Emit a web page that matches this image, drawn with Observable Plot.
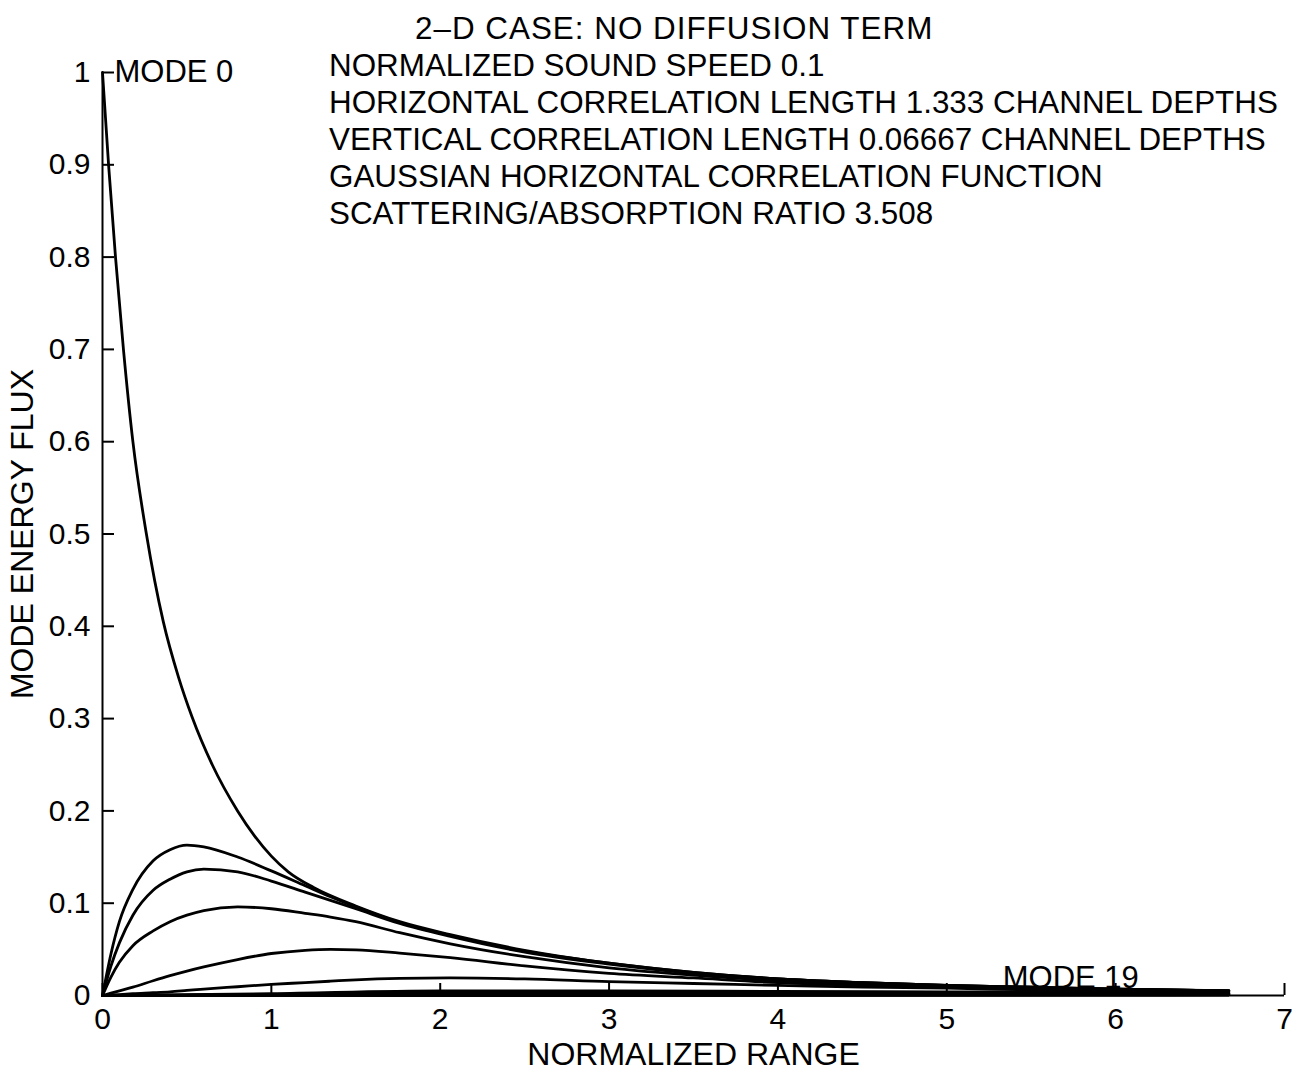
<!DOCTYPE html>
<html><head><meta charset="utf-8">
<script src="https://cdn.jsdelivr.net/npm/d3@7"></script>
<script src="https://cdn.jsdelivr.net/npm/@observablehq/plot@0.6"></script>
<style>
body{margin:0;background:#fff;}
#wrap{position:relative;width:1300px;height:1073px;font-family:"Liberation Sans",Arial,sans-serif;color:#000}
#notes{position:absolute;left:329px;top:10px;font-size:31.4px;line-height:37px;white-space:nowrap;z-index:1}
#notes div:first-child{margin-left:86px;letter-spacing:1px}
</style></head><body>
<div id="wrap"><div id="notes"></div></div>
<script>
// ---- annotation text ----
const noteLines = [
  "2\u2013D CASE: NO DIFFUSION TERM",
  "NORMALIZED SOUND SPEED 0.1",
  "HORIZONTAL CORRELATION LENGTH 1.333 CHANNEL DEPTHS",
  "VERTICAL CORRELATION LENGTH 0.06667 CHANNEL DEPTHS",
  "GAUSSIAN HORIZONTAL CORRELATION FUNCTION",
  "SCATTERING/ABSORPTION RATIO 3.508"
];
const xLabel = "NORMALIZED RANGE";
const yLabel = "MODE ENERGY FLUX";
const xTicks = [0, 1, 2, 3, 4, 5, 6, 7];
const yTicks = [0, 0.1, 0.2, 0.3, 0.4, 0.5, 0.6, 0.7, 0.8, 0.9, 1];
const yTickLabels = ["0", "0.1", "0.2", "0.3", "0.4", "0.5", "0.6", "0.7", "0.8", "0.9", "1"];

// ---- mode 0 (own range grid) ----
const mode0X = [0, 0.036, 0.077, 0.124, 0.18, 0.26, 0.36, 0.45, 0.53, 0.65, 0.8, 0.9, 1.0, 1.1, 1.25, 1.5, 1.76, 2.06, 2.5, 3, 3.5, 4, 4.5, 5, 5.5, 6, 6.67];
const mode0Y = [1, 0.9, 0.8, 0.7, 0.6, 0.5, 0.405, 0.345, 0.302, 0.25, 0.2, 0.173, 0.151, 0.134, 0.117, 0.097, 0.080, 0.066, 0.049, 0.035, 0.025, 0.018, 0.014, 0.011, 0.009, 0.007, 0.005];

// ---- modes 1-5 (common range grid) ----
const gridX = [0, 0.05, 0.1, 0.18, 0.3, 0.4, 0.5, 0.6, 0.8, 1.0, 1.2, 1.35, 1.5, 1.76, 2.06, 2.5, 3, 3.5, 4, 4.5, 5, 5.5, 6, 6.67];
const mode1 = [0, 0.045, 0.08, 0.115, 0.146, 0.158, 0.163, 0.161, 0.150, 0.135, 0.119, 0.107, 0.096, 0.079, 0.065, 0.048, 0.035, 0.025, 0.018, 0.014, 0.011, 0.009, 0.007, 0.005];
const mode2 = [0, 0.032, 0.057, 0.087, 0.114, 0.126, 0.134, 0.137, 0.134, 0.124, 0.112, 0.103, 0.094, 0.078, 0.064, 0.047, 0.034, 0.024, 0.018, 0.014, 0.011, 0.009, 0.007, 0.005];
const mode3 = [0, 0.02, 0.036, 0.054, 0.070, 0.080, 0.087, 0.092, 0.096, 0.094, 0.089, 0.085, 0.080, 0.068, 0.056, 0.042, 0.030, 0.022, 0.016, 0.013, 0.010, 0.008, 0.007, 0.005];
const mode4 = [0, 0.0025, 0.005, 0.009, 0.016, 0.0215, 0.0265, 0.031, 0.039, 0.0455, 0.049, 0.050, 0.0495, 0.046, 0.041, 0.032, 0.024, 0.019, 0.014, 0.011, 0.009, 0.007, 0.006, 0.005];
const mode5 = [0, 0.0005, 0.001, 0.002, 0.003, 0.004, 0.0055, 0.007, 0.0095, 0.012, 0.014, 0.0155, 0.017, 0.0185, 0.019, 0.018, 0.015, 0.013, 0.011, 0.009, 0.008, 0.006, 0.005, 0.004];

// ---- modes 6-19 (coarse range grid, all close to zero) ----
const smallX = [0, 1, 2, 3, 4, 5, 6, 6.67];
const mode6  = [0, 0.002, 0.005, 0.005, 0.0045, 0.004, 0.0035, 0.003];
const mode7  = [0, 0.001, 0.003, 0.0035, 0.0035, 0.0033, 0.003, 0.0028];
const mode8  = [0, 0.0007, 0.002, 0.0028, 0.003, 0.003, 0.0028, 0.0026];
const mode9  = [0, 0.0005, 0.0015, 0.0022, 0.0025, 0.0026, 0.0025, 0.0024];
const mode10 = [0, 0.0003, 0.001, 0.0017, 0.002, 0.0022, 0.0022, 0.0021];
const mode11 = [0, 0.0002, 0.0008, 0.0013, 0.0017, 0.0019, 0.002, 0.002];
const mode12 = [0, 0.0002, 0.0006, 0.001, 0.0014, 0.0016, 0.0017, 0.0018];
const mode13 = [0, 0.0001, 0.0005, 0.0008, 0.0011, 0.0014, 0.0015, 0.0016];
const mode14 = [0, 0.0001, 0.0004, 0.0007, 0.0009, 0.0012, 0.0013, 0.0014];
const mode15 = [0, 0.0001, 0.0003, 0.0005, 0.0008, 0.001, 0.0011, 0.0012];
const mode16 = [0, 0.0001, 0.0002, 0.0004, 0.0006, 0.0008, 0.0009, 0.001];
const mode17 = [0, 0, 0.0002, 0.0003, 0.0005, 0.0006, 0.0007, 0.0008];
const mode18 = [0, 0, 0.0001, 0.0002, 0.0004, 0.0005, 0.0006, 0.0007];
const mode19 = [0, 0, 0.0001, 0.0002, 0.0003, 0.0004, 0.0005, 0.0006];

const modeLabels = [
  {mode: 0, at: 0, text: "MODE 0"},
  {mode: 19, at: 5, text: "MODE 19"}
];

// ---- build long table ----
const series = [
  [0, mode0X, mode0Y],
  [1, gridX, mode1], [2, gridX, mode2], [3, gridX, mode3], [4, gridX, mode4], [5, gridX, mode5],
  [6, smallX, mode6], [7, smallX, mode7], [8, smallX, mode8], [9, smallX, mode9],
  [10, smallX, mode10], [11, smallX, mode11], [12, smallX, mode12], [13, smallX, mode13],
  [14, smallX, mode14], [15, smallX, mode15], [16, smallX, mode16], [17, smallX, mode17],
  [18, smallX, mode18], [19, smallX, mode19]
];
const rows = series.flatMap(([m, xs, ys]) => xs.map((x, i) => ({mode: m, x, y: ys[i]})));
const labelRows = modeLabels.map(l => {
  const s = series.find(d => d[0] === l.mode);
  return {x: s[1][l.at], y: s[2][l.at], text: l.text, mode: l.mode};
});

const notes = document.getElementById("notes");
noteLines.forEach(t => { const d = document.createElement("div"); d.textContent = t; notes.appendChild(d); });

const chart = Plot.plot({
  width: 1300, height: 1073,
  marginTop: 72, marginBottom: 78, marginLeft: 102, marginRight: 16,
  style: {fontFamily: "Liberation Sans, Arial, sans-serif", fontSize: "30px", color: "#000", background: "#fff", overflow: "visible"},
  x: {domain: [0, 7]},
  y: {domain: [0, 1]},
  marks: [
    Plot.axisX(xTicks, {tickSize: -12, tickPadding: 24, tickFormat: d => String(d), strokeWidth: 2, label: null}),
    Plot.axisY(yTicks, {tickSize: -12, tickPadding: 24, tickFormat: (d, i) => yTickLabels[i], strokeWidth: 2, label: null}),
    Plot.axisX([], {tickSize: 0, label: xLabel, labelAnchor: "center", labelOffset: 69, labelArrow: "none", fontSize: 32}),
    Plot.axisY([], {tickSize: 0, label: yLabel, labelAnchor: "center", labelOffset: 92, labelArrow: "none", fontSize: 32}),
    Plot.ruleX([0], {strokeWidth: 2}),
    Plot.ruleY([0], {strokeWidth: 2}),
    Plot.line(rows, {x: "x", y: "y", z: "mode", curve: "monotone-x", stroke: "#000", strokeWidth: 2.8}),
    Plot.text(labelRows.filter(d => d.mode === 0), {x: "x", y: "y", text: "text", textAnchor: "start", dx: 12, fontSize: 31}),
    Plot.text(labelRows.filter(d => d.mode === 19), {x: "x", y: "y", text: "text", textAnchor: "middle", lineAnchor: "bottom", dx: 124, dy: -7, fontSize: 31})
  ]
});
document.getElementById("wrap").appendChild(chart);
</script>
</body></html>
